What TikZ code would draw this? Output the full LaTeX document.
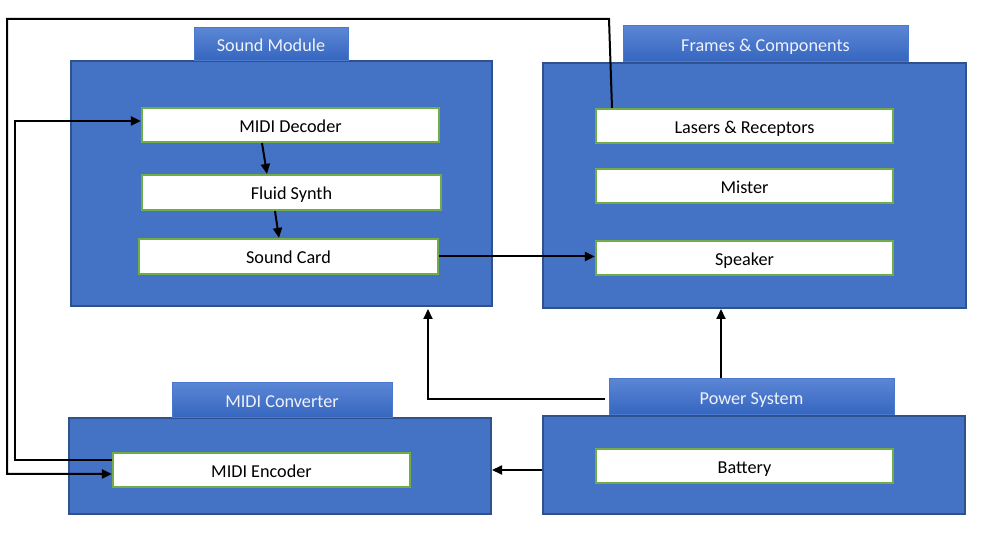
\documentclass[tikz,border=0pt]{standalone}
\usepackage{fontspec}
\setmainfont{Carlito}
\usetikzlibrary{arrows.meta}
\definecolor{boxblue}{HTML}{4472C4}
\definecolor{boxedge}{HTML}{2F528F}
\definecolor{tabtop}{HTML}{5B86D5}
\definecolor{tabbot}{HTML}{3565BF}
\definecolor{tabedge}{HTML}{4A78CC}
\definecolor{partedge}{HTML}{70AD47}
\definecolor{tabtext}{HTML}{EEF2FA}
\begin{document}
\begin{tikzpicture}[x=1pt, y=-1pt,
    group/.style={draw=boxedge, line width=2pt, fill=boxblue, inner sep=0pt},
    tab/.style={draw=tabedge, line width=1pt, top color=tabtop, bottom color=tabbot,
        text=tabtext, inner sep=0pt, text height=14.6pt, text depth=0pt,
        font=\fontsize{18.2}{22}\selectfont},
    part/.style={draw=partedge, line width=2.2pt, fill=white, inner sep=0pt,
        text height=14.6pt, text depth=0pt,
        minimum width=297pt, minimum height=34pt, font=\fontsize{18.2}{22}\selectfont},
    arr/.style={line width=2pt, -{Triangle[length=10pt, width=9pt]}}]
        \useasboundingbox (0, 0) rectangle (986, 534);

        % outer boxes
        \node[group, minimum width=421pt, minimum height=245pt] (snd) at (281.5, 183.5) {};
        \node[group, minimum width=423pt, minimum height=245pt] (frm) at (754.5, 185.5) {};
        \node[group, minimum width=422pt, minimum height=96pt] (conv) at (280, 466) {};
        \node[group, minimum width=422pt, minimum height=98pt] (pwr) at (754, 465) {};

        % title tabs
        \node[tab, minimum width=154pt, minimum height=33pt] (sndtab) at (271, 44.5) {Sound Module};
        \node[tab, minimum width=285pt, minimum height=36pt] (frmtab) at (765.5, 44) {Frames \& Components};
        \node[tab, minimum width=220pt, minimum height=35pt] (convtab) at (282, 400.5) {MIDI Converter};
        \node[tab, minimum width=285pt, minimum height=36pt] (pwrtab) at (751.5, 397) {Power System};

        % parts
        \node[part] (dec) at (290.5, 125) {MIDI Decoder};
        \node[part, minimum width=299pt, minimum height=35pt] (syn) at (291.5, 192.5) {Fluid Synth};
        \node[part, minimum width=299pt, minimum height=35pt] (card) at (288.5, 256.5) {Sound Card};
        \node[part] (las) at (744.5, 126) {Lasers \& Receptors};
        \node[part] (mist) at (744.5, 186) {Mister};
        \node[part] (spk) at (744.5, 258) {Speaker};
        \node[part] (enc) at (261.5, 470) {MIDI Encoder};
        \node[part] (bat) at (744.5, 466) {Battery};

        \coordinate (topR) at (609, 19);
        \coordinate (topL) at (7, 19);
        \coordinate (midL) at (15, 121);

        % signal path
        \draw[arr] ([xshift=-28.5pt]dec.south) -- ([xshift=-24.5pt]syn.north);
        \draw[arr] ([xshift=-16.5pt]syn.south) -- ([xshift=-9.5pt]card.north);
        \draw[arr] (card.east) -- (card.east -| spk.west);
        \draw[arr] ([xshift=-132.5pt]las.north) -- (topR) -- (topL) |- ([yshift=-4pt]enc.west);
        \draw[arr] ([yshift=10pt]enc.west) -| (midL) -- ([yshift=4pt]dec.west);

        % power
        \draw[arr] ([yshift=-5pt]pwr.west) -- ([yshift=-5pt]pwr.west -| conv.east);
        \draw[arr, shorten >=2pt] ([xshift=-4pt, yshift=-2pt]pwrtab.west) -| ([xshift=146.5pt]snd.south);
        \draw[arr] ([xshift=-30.5pt]pwrtab.north) -- ([xshift=-33.5pt]frm.south);
    \end{tikzpicture}
\end{document}
